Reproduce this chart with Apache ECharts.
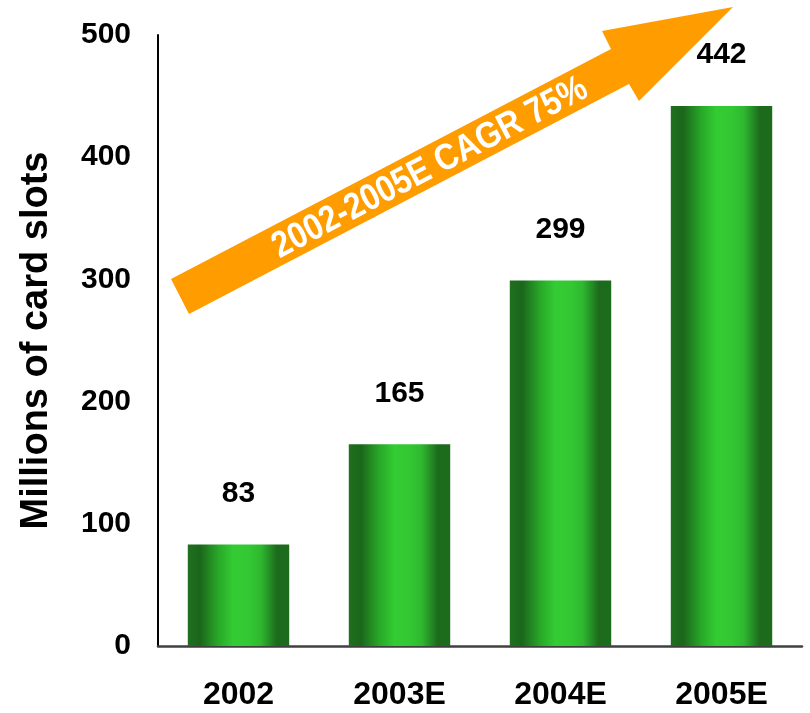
<!DOCTYPE html>
<html>
<head>
<meta charset="utf-8">
<style>
  html, body { margin: 0; padding: 0; background: #fff; }
  #chart { width: 810px; height: 713px; }
</style>
</head>
<body>
<div id="chart"></div>
<script src="https://cdn.jsdelivr.net/npm/echarts@6/dist/echarts.min.js"></script>
<script>
// data
var categories = ['2002', '2003E', '2004E', '2005E'];
var slots = [83, 165, 299, 442];
var yTicks = [0, 100, 200, 300, 400, 500];
var arrowText = '2002-2005E CAGR 75%';
var yName = 'Millions of card slots';

var FONT = "'Liberation Sans', Arial, sans-serif";

// horizontal gradient so the bars look like cylinders
var barFill = new echarts.graphic.LinearGradient(0, 0, 1, 0, [
    { offset: 0, color: '#1f701f' },
    { offset: 0.12, color: '#1b661b' },
    { offset: 0.3, color: '#28a828' },
    { offset: 0.45, color: '#33cc33' },
    { offset: 0.6, color: '#33c833' },
    { offset: 0.72, color: '#2fb82f' },
    { offset: 0.88, color: '#1c6a1c' },
    { offset: 1, color: '#1d6b1d' }
]);

var chart = echarts.init(document.getElementById('chart'));

var option = {
    backgroundColor: '#fff',
    animation: false,
    grid: { left: 158, right: 8, top: 35, bottom: 67 },
    xAxis: {
        type: 'category',
        data: categories,
        axisLine: { lineStyle: { color: '#404040', width: 2.5 } },
        axisTick: { show: false },
        axisLabel: {
            margin: 33,
            color: '#000',
            fontFamily: FONT,
            fontWeight: 'bold',
            fontSize: 32
        }
    },
    yAxis: {
        type: 'value',
        min: yTicks[0],
        max: yTicks[yTicks.length - 1],
        interval: 100,
        name: yName,
        nameLocation: 'middle',
        nameGap: 102,
        nameTextStyle: {
            color: '#000',
            fontFamily: FONT,
            fontWeight: 'bold',
            fontSize: 38
        },
        axisLine: { show: true, lineStyle: { color: '#000', width: 2 } },
        axisTick: { show: false },
        splitLine: { show: false },
        axisLabel: {
            margin: 27,
            color: '#000',
            fontFamily: FONT,
            fontWeight: 'bold',
            fontSize: 30
        }
    },
    series: [{
        type: 'bar',
        data: slots,
        barWidth: '63%',
        itemStyle: { color: barFill },
        label: {
            show: true,
            position: 'top',
            distance: 36,
            color: '#000',
            fontFamily: FONT,
            fontWeight: 'bold',
            fontSize: 30
        }
    }],
    graphic: [
        {
            // growth arrow
            type: 'polygon',
            z: 10,
            shape: {
                points: [
                    [171, 279], [611, 49], [602, 31], [733, 7],
                    [639, 101], [629, 84], [189, 314]
                ]
            },
            style: { fill: '#ff9c00' }
        },
        {
            type: 'text',
            z: 11,
            x: 430,
            y: 168,
            rotation: 27.7 * Math.PI / 180,
            scaleY: 1.15,
            style: {
                text: arrowText,
                fill: '#fff',
                font: 'bold 32px ' + FONT,
                align: 'center',
                verticalAlign: 'middle'
            }
        }
    ]
};

chart.setOption(option);
</script>
</body>
</html>
